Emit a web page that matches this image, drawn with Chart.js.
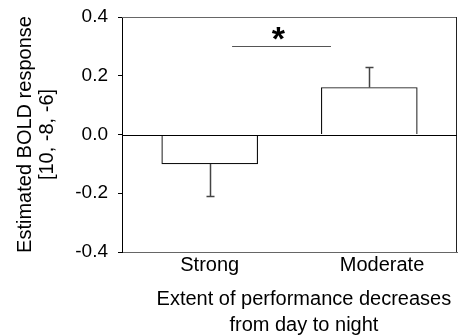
<!DOCTYPE html>
<html>
<head>
<meta charset="utf-8">
<script src="https://cdn.jsdelivr.net/npm/chart.js@4.4.0/dist/chart.umd.min.js"></script>
<style>
    html, body { margin: 0; padding: 0; background: #fff; }
    #wrap { width: 459px; height: 336px; position: relative; }
</style>
</head>
<body>
<div id="wrap"><canvas id="bold-chart"></canvas></div>
<script>
// Group means and standard errors of the BOLD estimate
const groups = ["Strong", "Moderate"];
const meanResponse = [-0.10, 0.16];
const semResponse = [0.11, 0.07];
const yTicks = [-0.4, -0.2, 0.0, 0.2, 0.4];
const yTitle = ["Estimated BOLD response", "[10, -8, -6]"];
const xTitle = ["Extent of performance decreases", "from day to night"];
const sigLevel = 0.30;
const sigMark = "*";

const fontFamily = "'Liberation Sans', Arial, Helvetica, sans-serif";

// Top/right frame, zero line, one-sided error bars, significance bar, x title
const decorations = {
    id: "decorations",
    afterDatasetsDraw(chart) {
        const { ctx, chartArea: a, scales: { x, y } } = chart;
        ctx.save();
        ctx.lineWidth = 1;

        // frame
        ctx.strokeStyle = "#666";
        ctx.beginPath();
        ctx.moveTo(a.left, Math.round(a.top) + 0.5);
        ctx.lineTo(a.right, Math.round(a.top) + 0.5);
        ctx.stroke();
        ctx.strokeStyle = "#222";
        ctx.beginPath();
        ctx.moveTo(Math.round(a.right) - 0.5, a.top);
        ctx.lineTo(Math.round(a.right) - 0.5, a.bottom);
        ctx.stroke();

        // zero line
        const y0 = Math.round(y.getPixelForValue(0)) + 0.5;
        ctx.strokeStyle = "#000";
        ctx.beginPath();
        ctx.moveTo(a.left, y0);
        ctx.lineTo(a.right, y0);
        ctx.stroke();

        // error bars point away from zero
        ctx.strokeStyle = "#444";
        ctx.lineWidth = 1.5;
        meanResponse.forEach((m, i) => {
            const px = Math.round(x.getPixelForValue(i)) + 0.5;
            const from = y.getPixelForValue(m);
            const to = Math.round(y.getPixelForValue(m + Math.sign(m) * semResponse[i])) + 0.5;
            ctx.beginPath();
            ctx.moveTo(px, from);
            ctx.lineTo(px, to);
            ctx.moveTo(px - 4, to);
            ctx.lineTo(px + 4, to);
            ctx.stroke();
        });

        // significance bar
        const sy = Math.round(y.getPixelForValue(sigLevel)) + 0.5;
        ctx.strokeStyle = "#555";
        ctx.lineWidth = 1.2;
        ctx.beginPath();
        ctx.moveTo(x.getPixelForValue(0.14), sy);
        ctx.lineTo(x.getPixelForValue(0.76), sy);
        ctx.stroke();
        ctx.fillStyle = "#000";
        ctx.font = "bold 34px " + fontFamily;
        ctx.textAlign = "center";
        ctx.textBaseline = "alphabetic";
        ctx.fillText(sigMark, x.getPixelForValue(0.43), sy + 3);

        // x axis title
        ctx.font = "20px " + fontFamily;
        const cx = a.left + (a.right - a.left) * 0.543;
        ctx.fillText(xTitle[0], cx, a.bottom + 53);
        ctx.fillText(xTitle[1], cx, a.bottom + 79);
        ctx.restore();
    },
};

new Chart(document.getElementById("bold-chart"), {
    type: "bar",
    data: {
        datasets: [
            {
                data: groups.map((g, i) => ({ x: i, y: meanResponse[i] })),
                backgroundColor: "#fff",
                borderColor: "#111",
                borderWidth: 1.2,
                barThickness: 96,
            },
        ],
    },
    options: {
        responsive: true,
        maintainAspectRatio: false,
        animation: false,
        layout: { padding: { top: 17, right: 2, bottom: 0, left: 0 } },
        plugins: {
            legend: { display: false },
            tooltip: { enabled: false },
        },
        scales: {
            x: {
                type: "linear",
                min: -0.55,
                max: 1.55,
                offset: false,
                grid: { display: false, drawTicks: false, offset: false },
                border: { color: "#666", width: 1 },
                afterBuildTicks: (scale) => {
                    scale.ticks = [0, 1.08].map((v) => ({ value: v }));
                },
                ticks: {
                    callback: (v, i) => groups[i],
                    color: "#000",
                    padding: 1,
                    maxRotation: 0,
                    font: { family: fontFamily, size: 20 },
                },
                afterFit: (scale) => {
                    scale.height = 84;
                },
            },
            y: {
                min: -0.4,
                max: 0.4,
                afterBuildTicks: (scale) => {
                    scale.ticks = yTicks.map((v) => ({ value: v }));
                },
                ticks: {
                    callback: (v) => v.toFixed(1),
                    color: "#000",
                    padding: 10,
                    font: { family: fontFamily, size: 19 },
                },
                grid: { drawOnChartArea: false, tickLength: 4, tickColor: "#000" },
                border: { color: "#000", width: 1 },
                title: {
                    display: true,
                    text: yTitle,
                    color: "#000",
                    padding: { top: 14, bottom: 0 },
                    font: { family: fontFamily, size: 20, lineHeight: 1.1 },
                },
                afterFit: (scale) => {
                    // fixed axis width; the layout padding already leaves room for the end labels
                    scale.width = 122;
                    scale.paddingTop = 0;
                    scale.paddingBottom = 0;
                },
            },
        },
    },
    plugins: [decorations],
});
</script>
</body>
</html>
